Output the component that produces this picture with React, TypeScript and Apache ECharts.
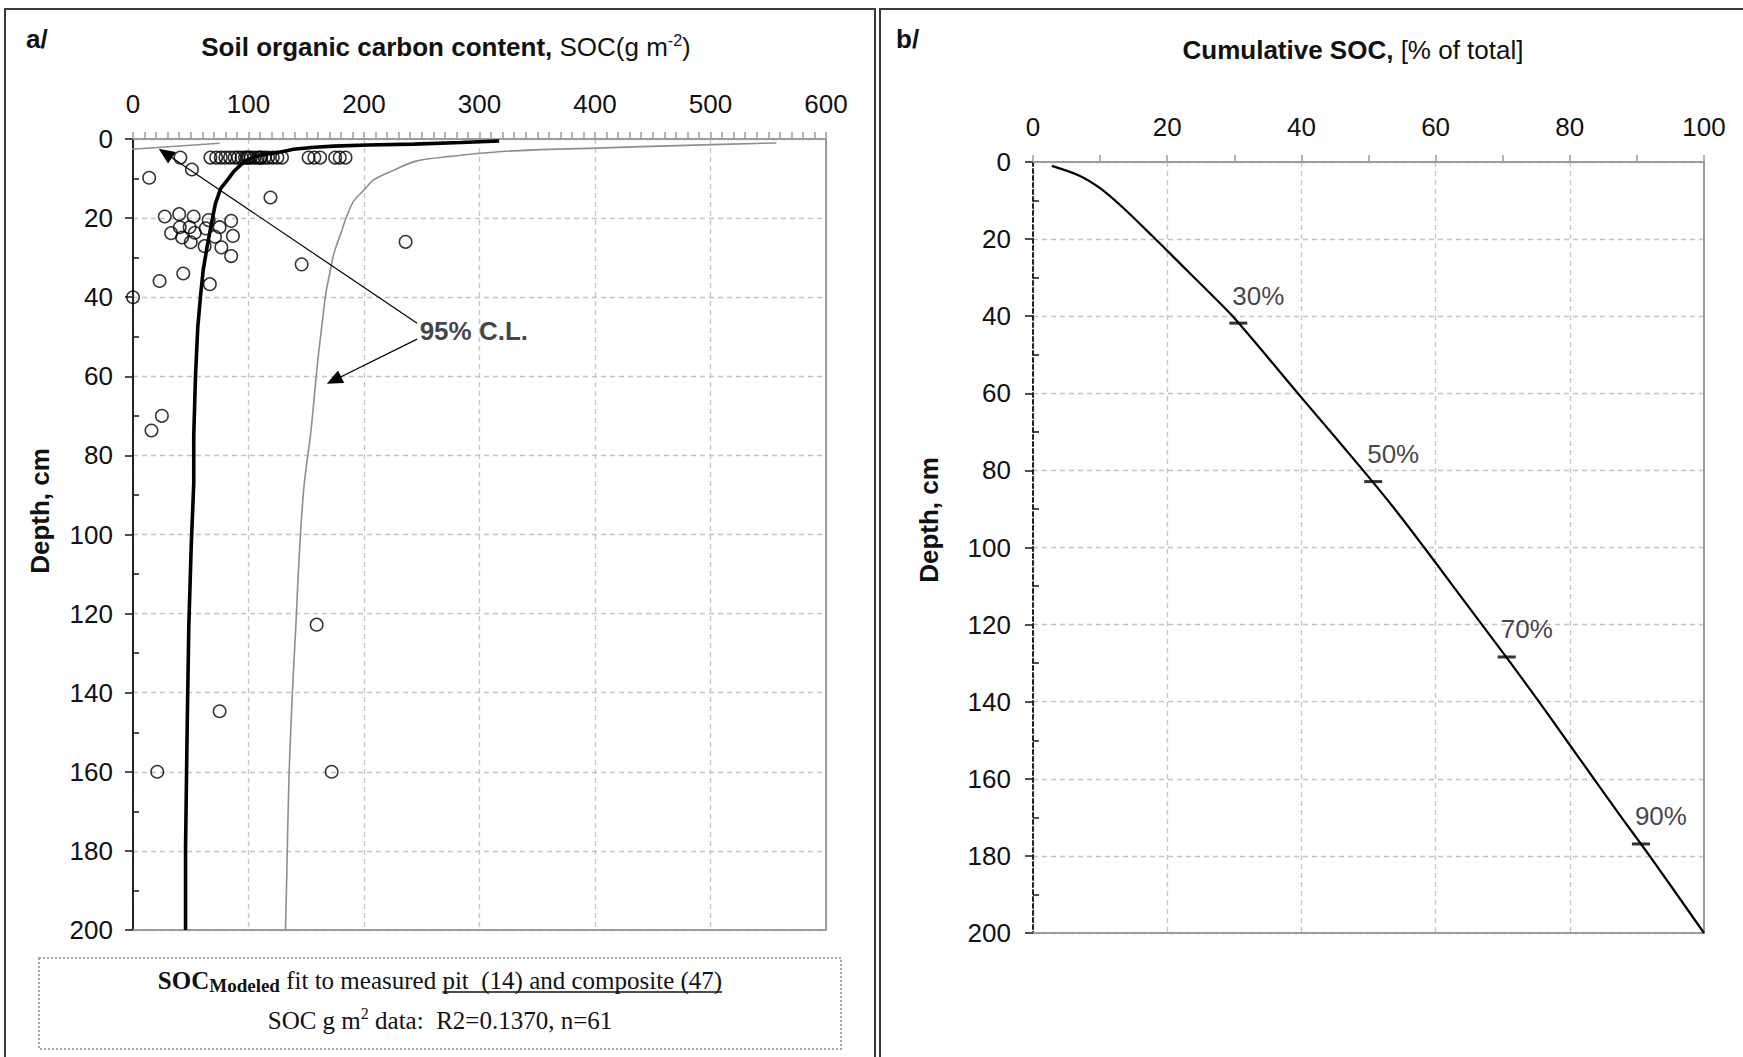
import React, { useEffect, useRef } from "react";
import * as echarts from "echarts";

const W = 1743;
const H = 1057;

// ---------- Panel a data ----------
const measuredSOC = [
  41, 67, 72, 76, 80, 84, 88, 91, 94, 97, 99, 100, 102, 105, 108, 110, 111, 114, 117, 121, 125, 129, 152, 157, 162, 175, 179, 184,
  51, 14, 119, 27.5, 40, 52.5, 65.5, 85, 33, 40.5, 49, 53.5, 42.5, 63, 75, 86.5, 71, 50, 62, 76.5, 85, 236, 146, 43.5, 23, 66.5, 0,
  25, 16, 159, 75, 21, 172,
];
const measuredDepth = [
  4.7, 4.7, 4.7, 4.7, 4.7, 4.7, 4.7, 4.7, 4.7, 4.7, 4.7, 4.7, 4.7, 4.7, 4.7, 4.7, 4.7, 4.7, 4.7, 4.7, 4.7, 4.7, 4.7, 4.7, 4.7, 4.7, 4.7, 4.7,
  7.7, 9.8, 14.8, 19.6, 19, 19.6, 20.5, 20.7, 23.8, 22.3, 22.3, 23.7, 24.9, 22.6, 22.3, 24.5, 24.7, 26.1, 27.1, 27.4, 29.6, 26, 31.7, 34, 35.9, 36.7, 40,
  70, 73.7, 122.8, 144.7, 160, 160,
];
const modelSOC = [317, 284, 243, 203, 174, 157, 139, 128, 116, 105, 99, 93, 87, 83, 76, 71.4, 68.5, 64.2, 60.8, 58.4, 56.1, 54.1, 52.6, 52.6, 50.4, 48.3, 46.9, 45.5, 45.5];
const modelDepth = [0.5, 0.9, 1.3, 1.5, 1.8, 2.1, 2.6, 3.3, 3.8, 4.5, 5.3, 6.6, 8.3, 9.9, 12.5, 16.3, 20.5, 27.2, 33.1, 39.9, 47.5, 60, 75, 87, 103, 123.5, 149, 179, 200];
const upperSOC = [557, 479, 401, 323, 275, 245, 225, 208, 200, 191, 185, 180, 174, 171, 167, 164, 160, 157, 154, 148, 144, 141, 138, 135, 133, 132];
const upperDepth = [1, 1.6, 2.3, 3.1, 4.4, 5.6, 8, 10.4, 12.9, 15.7, 19.6, 23.8, 28.9, 33, 39, 46, 56, 65, 74, 88, 105, 123, 140, 162, 188, 200];
const lowerSOC = [75, -6];
const lowerDepth = [1.06, 2.7];
const calLabelPos = [246, 48.6];
const arrowStarts = [[246, 46.6], [246, 50.6]];
const arrowEnds = [[28, 3.6], [174, 61]];

// ---------- Panel b data ----------
const cumPct = [2.8, 7.0, 10.0, 13.5, 17.9, 21.9, 25.9, 29.8, 40.3, 49.2, 53.9, 58.3, 62.6, 66.9, 71.2, 75.4, 79.5, 83.6, 87.7, 91.9, 100];
const cumDepth = [1.0, 3.6, 6.8, 12.0, 19.4, 26.3, 33.2, 40.1, 61.7, 80.0, 90, 100, 110, 120, 130, 140, 150, 160, 170, 180, 200];
const markerLabels = ["30%", "50%", "70%", "90%"];
const markerPct = [30.6, 50.7, 70.6, 90.6];
const markerDepth = [41.8, 82.9, 128.4, 176.9];

const SANS = "'Liberation Sans', Arial, sans-serif";
const SERIF = "'Liberation Serif', 'Times New Roman', serif";
const GRID_COLOR = "#c4c4c4";
const FRAME_GRAY = "#9c9c9c";

function measure(text: string, font: string): number {
  const c = document.createElement("canvas");
  const ctx = c.getContext("2d");
  if (!ctx) return text.length * 12;
  ctx.font = font;
  return ctx.measureText(text).width;
}

function zip(a: number[], b: number[]) {
  return a.map((v, i) => [v, b[i]]);
}

export default function App() {
  const ref = useRef<HTMLDivElement>(null);

  useEffect(() => {
    document.body.style.margin = "0";
    const chart = echarts.init(ref.current!, null, { renderer: "svg", width: W, height: H });

    const splitLine = { show: true, lineStyle: { color: GRID_COLOR, type: [5, 4] as any, width: 1.3 } };
    const labelStyle = { fontSize: 26, color: "#111", fontFamily: SANS };

    const mainX = (gridIndex: number, max: number, interval: number, minorSplit: number) => ({
      gridIndex,
      type: "value",
      position: "top",
      min: 0,
      max,
      interval,
      axisLine: { show: true, onZero: false, lineStyle: { color: FRAME_GRAY, width: 2 } },
      axisTick: { show: true, length: 7, lineStyle: { color: FRAME_GRAY, width: 1.5 } },
      minorTick: { show: true, splitNumber: minorSplit, length: 7, lineStyle: { color: FRAME_GRAY, width: 1.5 } },
      splitLine,
      axisLabel: { ...labelStyle, margin: 22 },
    });
    const edgeX = (gridIndex: number, max: number) => ({
      gridIndex,
      type: "value",
      position: "bottom",
      min: 0,
      max,
      axisLine: { show: true, onZero: false, lineStyle: { color: FRAME_GRAY, width: 2 } },
      axisTick: { show: false },
      axisLabel: { show: false },
      splitLine: { show: false },
    });
    const mainY = (gridIndex: number, lineType: any, labelMargin: number) => ({
      gridIndex,
      type: "value",
      position: "left",
      inverse: true,
      min: 0,
      max: 200,
      interval: 20,
      axisLine: { show: true, onZero: false, lineStyle: { color: "#222", width: 2, type: lineType } },
      axisTick: { show: true, length: 8, lineStyle: { color: "#222", width: 1.6 } },
      splitLine,
      axisLabel: { ...labelStyle, margin: labelMargin },
    });
    const minorY = (gridIndex: number) => ({
      gridIndex,
      type: "value",
      position: "left",
      inverse: true,
      min: 0,
      max: 200,
      interval: 20,
      axisLine: { show: false, onZero: false },
      axisTick: { show: false, inside: true },
      minorTick: { show: true, splitNumber: 2, length: 6, lineStyle: { color: "#222", width: 1.6 } },
      axisLabel: { show: false },
      splitLine: { show: false },
    });
    const edgeY = (gridIndex: number) => ({
      gridIndex,
      type: "value",
      position: "right",
      inverse: true,
      min: 0,
      max: 200,
      axisLine: { show: true, onZero: false, lineStyle: { color: FRAME_GRAY, width: 2 } },
      axisTick: { show: false },
      axisLabel: { show: false },
      splitLine: { show: false },
    });

    // bottom caption layout (text widths measured)
    const capFont = 25;
    const subFont = 19;
    const leftW =
      measure("SOC", `bold ${capFont}px ${SERIF}`) +
      measure("Modeled", `bold ${subFont}px ${SERIF}`) +
      measure(" fit to measured ", `${capFont}px ${SERIF}`);
    const rightText = "pit  (14) and composite (47)";
    const rightW = measure(rightText, `${capFont}px ${SERIF}`);
    const capCenter = 440;
    const capStart = capCenter - (leftW + rightW) / 2;
    const splitX = capStart + leftW;

    const option: any = {
      animation: false,
      textStyle: { fontFamily: SANS },
      grid: [
        { left: 133, top: 139, width: 693, height: 791, show: false, containLabel: false, outerBoundsMode: "none" },
        { left: 1033, top: 162, width: 671, height: 771, show: false, containLabel: false, outerBoundsMode: "none" },
      ],
      xAxis: [mainX(0, 600, 100, 10), edgeX(0, 600), mainX(1, 100, 20, 2), edgeX(1, 100)],
      yAxis: [
        mainY(0, "solid", 20),
        minorY(0),
        edgeY(0),
        mainY(1, [4, 3], 22),
        minorY(1),
        edgeY(1),
      ],
      series: [
        {
          name: "upper CL",
          type: "line",
          xAxisIndex: 0,
          yAxisIndex: 0,
          data: zip(upperSOC, upperDepth),
          showSymbol: false,
          symbol: "none",
          smooth: 0.35,
          lineStyle: { color: "#8e8e8e", width: 1.6 },
          z: 2,
        },
        {
          name: "lower CL",
          type: "line",
          xAxisIndex: 0,
          yAxisIndex: 0,
          data: zip(lowerSOC, lowerDepth),
          showSymbol: false,
          symbol: "none",
          clip: false,
          lineStyle: { color: "#8e8e8e", width: 1.6 },
          z: 2,
        },
        {
          name: "modeled",
          type: "line",
          xAxisIndex: 0,
          yAxisIndex: 0,
          data: zip(modelSOC, modelDepth),
          showSymbol: false,
          symbol: "none",
          lineStyle: { color: "#000", width: 3.6 },
          z: 3,
        },
        {
          name: "measured",
          type: "scatter",
          xAxisIndex: 0,
          yAxisIndex: 0,
          data: zip(measuredSOC, measuredDepth),
          symbol: "circle",
          symbolSize: 12.5,
          clip: false,
          itemStyle: { color: "rgba(255,255,255,0)", borderColor: "#000", borderWidth: 1.5 },
          z: 4,
        },
        {
          name: "arrows",
          type: "line",
          xAxisIndex: 0,
          yAxisIndex: 0,
          data: [],
          markLine: {
            silent: true,
            symbol: ["none", "triangle"],
            symbolSize: [14, 16],
            label: { show: false },
            lineStyle: { color: "#000", width: 1.2, type: "solid" },
            data: arrowStarts.map((s, i) => [{ coord: s }, { coord: arrowEnds[i] }]),
          },
          z: 5,
        },
        {
          name: "cl label",
          type: "scatter",
          xAxisIndex: 0,
          yAxisIndex: 0,
          data: [calLabelPos],
          symbolSize: 1,
          itemStyle: { color: "rgba(0,0,0,0)" },
          label: {
            show: true,
            position: "right",
            distance: 2,
            formatter: "95% C.L.",
            fontSize: 26,
            fontWeight: "bold",
            color: "#111",
            fontFamily: SANS,
          },
          z: 6,
        },
        {
          name: "cumulative",
          type: "line",
          xAxisIndex: 2,
          yAxisIndex: 3,
          data: zip(cumPct, cumDepth),
          showSymbol: false,
          symbol: "none",
          smooth: 0.3,
          lineStyle: { color: "#000", width: 2.2 },
          z: 3,
        },
        {
          name: "markers",
          type: "scatter",
          xAxisIndex: 2,
          yAxisIndex: 3,
          data: markerPct.map((p, i) => ({ value: [p, markerDepth[i]], name: markerLabels[i] })),
          symbol: "rect",
          symbolSize: [18, 3],
          itemStyle: { color: "#000" },
          label: {
            show: true,
            position: "top",
            offset: [20, -8],
            formatter: (p: any) => p.name,
            fontSize: 26,
            color: "#111",
            fontFamily: SANS,
          },
          z: 4,
        },
      ],
      graphic: [
        { type: "rect", shape: { x: 5, y: 9, width: 870, height: 1100 }, style: { fill: "none", stroke: "#3a3a3a", lineWidth: 2 }, silent: true },
        { type: "rect", shape: { x: 880, y: 9, width: 870, height: 1100 }, style: { fill: "none", stroke: "#3a3a3a", lineWidth: 2 }, silent: true },
        {
          type: "text",
          x: 26,
          y: 39,
          style: { text: "a/", fontSize: 26, fontWeight: "bold", fontFamily: SANS, fill: "#111", align: "left", verticalAlign: "middle" },
        },
        {
          type: "text",
          x: 896,
          y: 39,
          style: { text: "b/", fontSize: 26, fontWeight: "bold", fontFamily: SANS, fill: "#111", align: "left", verticalAlign: "middle" },
        },
        {
          type: "text",
          x: 446,
          y: 47,
          style: {
            text: "{b|Soil organic carbon content,}{r| SOC(g m}{s|-2}{r|)}",
            align: "center",
            verticalAlign: "middle",
            fill: "#111",
            rich: {
              b: { fontSize: 26, fontWeight: "bold", fontFamily: SANS, fill: "#111", lineHeight: 30 },
              r: { fontSize: 26, fontFamily: SANS, fill: "#111", lineHeight: 30 },
              s: { fontSize: 16, fontFamily: SANS, fill: "#111", lineHeight: 16, verticalAlign: "top" },
            },
          },
        },
        {
          type: "text",
          x: 1353,
          y: 50,
          style: {
            text: "{b|Cumulative SOC,}{r| [% of total]}",
            align: "center",
            verticalAlign: "middle",
            fill: "#111",
            rich: {
              b: { fontSize: 26, fontWeight: "bold", fontFamily: SANS, fill: "#111" },
              r: { fontSize: 26, fontFamily: SANS, fill: "#111" },
            },
          },
        },
        {
          type: "text",
          x: 40,
          y: 511,
          rotation: Math.PI / 2,
          style: { text: "Depth, cm", fontSize: 26, fontWeight: "bold", fontFamily: SANS, fill: "#111", align: "center", verticalAlign: "middle" },
        },
        {
          type: "text",
          x: 929,
          y: 520,
          rotation: Math.PI / 2,
          style: { text: "Depth, cm", fontSize: 26, fontWeight: "bold", fontFamily: SANS, fill: "#111", align: "center", verticalAlign: "middle" },
        },
        {
          type: "rect",
          shape: { x: 39, y: 958, width: 802, height: 91 },
          style: { fill: "none", stroke: "#8a8a8a", lineWidth: 1.5, lineDash: [2, 2] },
          silent: true,
        },
        {
          type: "text",
          x: capStart,
          y: 980,
          style: {
            text: "{b|SOC}{sub|Modeled}{r| fit to measured }",
            align: "left",
            verticalAlign: "middle",
            fill: "#111",
            rich: {
              b: { fontSize: capFont, fontWeight: "bold", fontFamily: SERIF, fill: "#111", lineHeight: 30 },
              sub: { fontSize: subFont, fontWeight: "bold", fontFamily: SERIF, fill: "#111", lineHeight: 19, verticalAlign: "bottom" },
              r: { fontSize: capFont, fontFamily: SERIF, fill: "#111", lineHeight: 30 },
            },
          },
        },
        {
          type: "text",
          x: splitX,
          y: 980,
          style: { text: rightText, fontSize: capFont, fontFamily: SERIF, fill: "#111", align: "left", verticalAlign: "middle" },
        },
        {
          type: "line",
          shape: { x1: splitX, y1: 992, x2: splitX + rightW, y2: 992 },
          style: { stroke: "#111", lineWidth: 1.3 },
          silent: true,
        },
        {
          type: "text",
          x: 440,
          y: 1020,
          style: {
            text: "{r|SOC g m}{s|2}{r| data:  R2=0.1370, n=61}",
            align: "center",
            verticalAlign: "middle",
            fill: "#111",
            rich: {
              r: { fontSize: capFont, fontFamily: SERIF, fill: "#111", lineHeight: 30 },
              s: { fontSize: 16, fontFamily: SERIF, fill: "#111", lineHeight: 16, verticalAlign: "top" },
            },
          },
        },
      ],
    };

    chart.setOption(option);
    return () => chart.dispose();
  }, []);

  return <div ref={ref} style={{ width: W, height: H }} />;
}
